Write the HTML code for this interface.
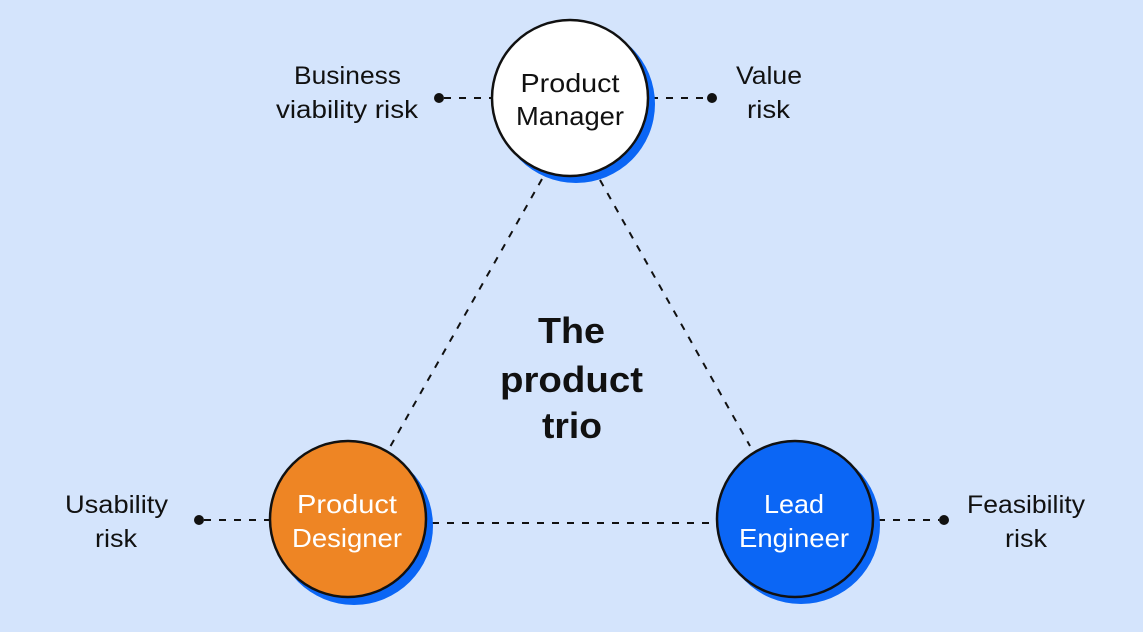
<!DOCTYPE html>
<html>
<head>
<meta charset="utf-8">
<style>
  html, body { margin: 0; padding: 0; background: #d4e4fc; }
  svg { display: block; }
  text { font-family: "Liberation Sans", "DejaVu Sans", sans-serif; fill: #111; }
</style>
</head>
<body>
<svg width="1143" height="632" viewBox="0 0 1143 632" xmlns="http://www.w3.org/2000/svg">
  <rect x="0" y="0" width="1143" height="632" fill="#d4e4fc"/>

  <!-- dashed connectors -->
  <g stroke="#111" stroke-width="2" stroke-dasharray="7 8" fill="none">
    <line x1="444" y1="98" x2="492" y2="98"/>
    <line x1="651" y1="98" x2="707" y2="98"/>
    <line x1="542" y1="179" x2="390" y2="447"/>
    <line x1="600" y1="180" x2="750" y2="446"/>
    <line x1="432" y1="523" x2="716" y2="523"/>
    <line x1="204" y1="520" x2="269" y2="520"/>
    <line x1="878" y1="520" x2="939" y2="520"/>
  </g>

  <!-- dots -->
  <g fill="#111">
    <circle cx="439" cy="98" r="5"/>
    <circle cx="712" cy="98" r="5"/>
    <circle cx="199" cy="520" r="5"/>
    <circle cx="944" cy="520" r="5"/>
  </g>

  <!-- Product Manager -->
  <circle cx="576" cy="104" r="79" fill="#0b66f5"/>
  <circle cx="570" cy="98" r="78" fill="#ffffff" stroke="#111" stroke-width="2.5"/>

  <!-- Product Designer -->
  <circle cx="354" cy="526" r="79" fill="#0b66f5"/>
  <circle cx="348" cy="519" r="78" fill="#ee8524" stroke="#111" stroke-width="2.5"/>

  <!-- Lead Engineer -->
  <circle cx="801" cy="525" r="79" fill="#0b66f5"/>
  <circle cx="795" cy="519" r="78" fill="#0b66f5" stroke="#111" stroke-width="2.5"/>

  <!-- circle labels -->
  <g font-size="26" text-anchor="middle">
    <text x="570" y="92" textLength="99" lengthAdjust="spacingAndGlyphs">Product</text>
    <text x="570" y="125" textLength="108" lengthAdjust="spacingAndGlyphs">Manager</text>
    <text x="347" y="513" textLength="100" lengthAdjust="spacingAndGlyphs" style="fill:#fff">Product</text>
    <text x="347" y="547" textLength="110" lengthAdjust="spacingAndGlyphs" style="fill:#fff">Designer</text>
    <text x="794" y="513" textLength="60" lengthAdjust="spacingAndGlyphs" style="fill:#fff">Lead</text>
    <text x="794" y="547" textLength="110" lengthAdjust="spacingAndGlyphs" style="fill:#fff">Engineer</text>
  </g>

  <!-- risk labels -->
  <g font-size="25" text-anchor="middle">
    <text x="347.5" y="84" textLength="107" lengthAdjust="spacingAndGlyphs">Business</text>
    <text x="347" y="118" textLength="142" lengthAdjust="spacingAndGlyphs">viability risk</text>
    <text x="769" y="84" textLength="66" lengthAdjust="spacingAndGlyphs">Value</text>
    <text x="768.5" y="118" textLength="43" lengthAdjust="spacingAndGlyphs">risk</text>
    <text x="116.5" y="513" textLength="103" lengthAdjust="spacingAndGlyphs">Usability</text>
    <text x="116" y="547" textLength="42" lengthAdjust="spacingAndGlyphs">risk</text>
    <text x="1026" y="513" textLength="118" lengthAdjust="spacingAndGlyphs">Feasibility</text>
    <text x="1026" y="547" textLength="42" lengthAdjust="spacingAndGlyphs">risk</text>
  </g>

  <!-- title -->
  <g font-size="36" font-weight="bold" text-anchor="middle">
    <text x="571.5" y="343" textLength="67" lengthAdjust="spacingAndGlyphs">The</text>
    <text x="571.5" y="392" textLength="143" lengthAdjust="spacingAndGlyphs">product</text>
    <text x="572" y="438" textLength="60" lengthAdjust="spacingAndGlyphs">trio</text>
  </g>
</svg>
</body>
</html>
